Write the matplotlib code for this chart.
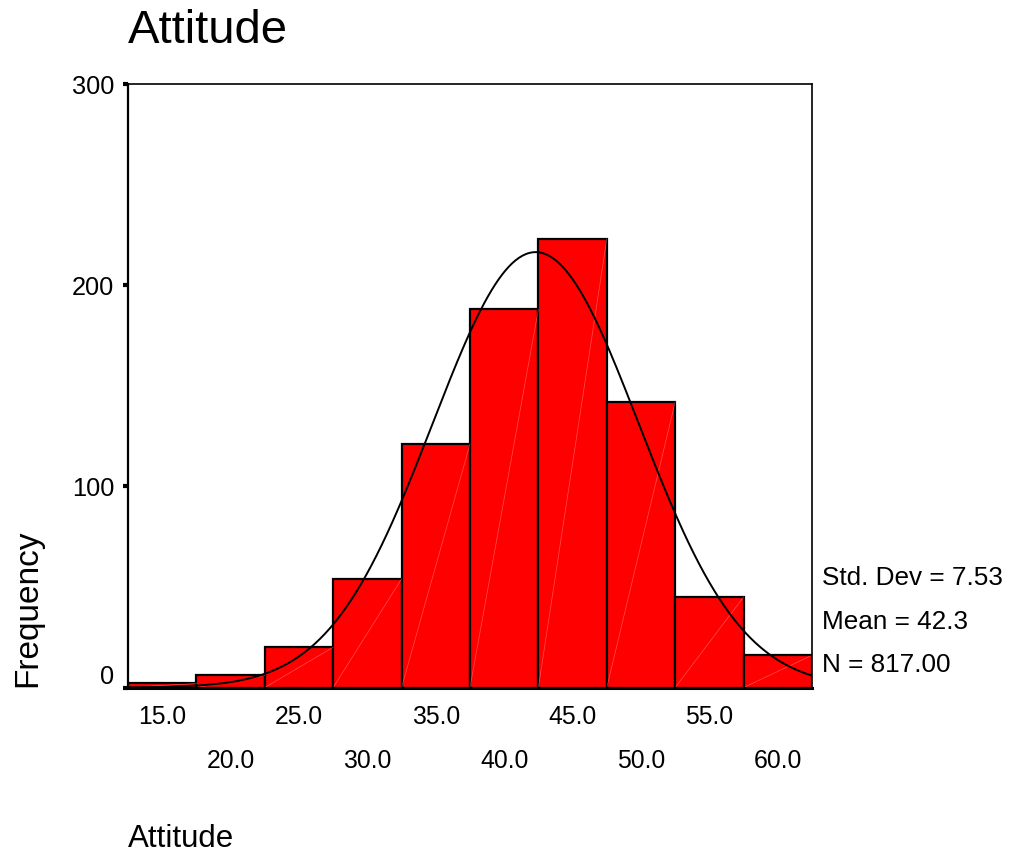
import numpy as np
import matplotlib
matplotlib.use("Agg")
import matplotlib.pyplot as plt
import matplotlib.transforms as mtransforms

plt.rcParams['font.family'] = ['Liberation Sans', 'DejaVu Sans']

# ---- data ----
bin_centers = [15, 20, 25, 30, 35, 40, 45, 50, 55, 60]
counts = [2, 6, 20, 54, 121, 188, 223, 142, 45, 16]
bin_width = 5.0
x_tick_labels = ["15.0", "20.0", "25.0", "30.0", "35.0", "40.0", "45.0", "50.0", "55.0", "60.0"]
y_ticks = [0, 100, 200, 300]
std_dev = 7.53
mean = 42.3
n_total = 817.00
title = "Attitude"
xlabel = "Attitude"
ylabel = "Frequency"

W, H = 1015, 852
fig = plt.figure(figsize=(W / 100, H / 100), dpi=100)
ax = fig.add_axes([128 / W, 1 - 687.5 / H, (812 - 128) / W, (687.5 - 84) / H])

# bars
ax.bar(bin_centers, counts, width=bin_width, color="#ff0000", edgecolor="black",
       linewidth=1.6, zorder=2)
# faint diagonal rendering lines inside bars
for c, h in zip(bin_centers, counts):
    ax.plot([c - bin_width / 2, c + bin_width / 2], [0, h], color="#ffb0b0",
            linewidth=0.5, alpha=0.45, zorder=2.5)

# normal curve from displayed statistics
xs = np.linspace(12.5, 62.5, 400)
ys = n_total * bin_width / (std_dev * np.sqrt(2 * np.pi)) * np.exp(-0.5 * ((xs - mean) / std_dev) ** 2)
ax.plot(xs, ys, color="black", linewidth=1.4, zorder=3)

ax.set_xlim(12.5, 62.5)
ax.set_ylim(0, 300)

# spines
for s, lw in [("left", 1.6), ("bottom", 2.2), ("top", 1.2), ("right", 1.2)]:
    ax.spines[s].set_linewidth(lw)
    ax.spines[s].set_color("black")

# y ticks
ax.set_yticks(y_ticks)
ax.set_yticklabels([str(v) for v in y_ticks])
ax.tick_params(axis="y", direction="out", length=3.5, width=3, pad=6.5, labelsize=18.3)
# shift the "0" label upward
lbl0 = ax.get_yticklabels()[0]
lbl0.set_transform(lbl0.get_transform() + mtransforms.ScaledTranslation(0, 13 / 100, fig.dpi_scale_trans))

# x ticks (alternating rows)
ax.set_xticks(bin_centers)
ax.set_xticklabels(x_tick_labels)
ax.tick_params(axis="x", direction="out", length=1.5, width=4.5, labelsize=17.8)
for i, t in enumerate(ax.xaxis.get_major_ticks()):
    t.set_pad(11 if i % 2 == 0 else 42.5)

# texts
fig.text(128 / W, 1 - 43 / H, title, fontsize=34, ha="left", va="baseline")
fig.text(128 / W, 1 - 847 / H, xlabel, fontsize=22.5, ha="left", va="baseline")
fig.text(28 / W, 1 - 608 / H, ylabel, fontsize=24, rotation=90, ha="center", va="center")

stats = [f"Std. Dev = {std_dev:.2f}", f"Mean = {mean:.1f}", f"N = {n_total:.2f}"]
for s, yc in zip(stats, [578, 622, 665.5]):
    fig.text(822 / W, 1 - yc / H, s, fontsize=18.8, ha="left", va="center")

fig.savefig("out.png", dpi=100)
